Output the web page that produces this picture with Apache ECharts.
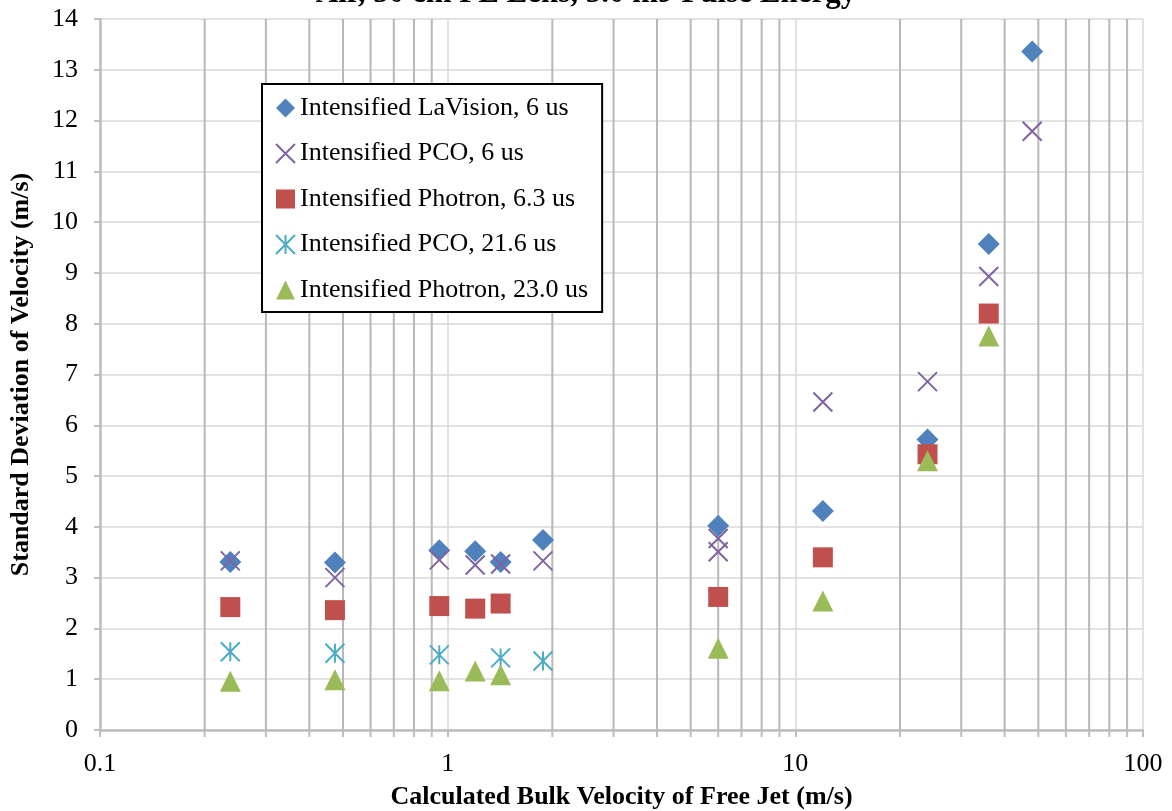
<!DOCTYPE html>
<html>
<head>
<meta charset="utf-8">
<script src="https://cdn.jsdelivr.net/npm/echarts@6/dist/echarts.min.js"></script>
<style>html,body{margin:0;padding:0;background:#fff;}#c{width:1172px;height:811px;}</style>
</head>
<body>
<div id="c"></div>
<script>
const chartTitle = 'Air, 50 cm FL Lens, 5.0 mJ Pulse Energy';
const xTitle = 'Calculated Bulk Velocity of Free Jet (m/s)';
const yTitle = 'Standard Deviation of Velocity (m/s)';

const seriesNames = ['Intensified LaVision, 6 us','Intensified PCO, 6 us','Intensified Photron, 6.3 us','Intensified PCO, 21.6 us','Intensified Photron, 23.0 us'];

const lavisionX = [0.237, 0.474, 0.946, 1.2, 1.42, 1.88, 6.0, 12, 24, 36, 48];
const lavisionY = [3.31, 3.30, 3.54, 3.52, 3.31, 3.74, 4.02, 4.31, 5.72, 9.57, 13.36];

const pco6X = [0.237, 0.474, 0.946, 1.2, 1.42, 1.88, 6.0, 6.0, 12, 24, 36, 48];
const pco6Y = [3.33, 3.00, 3.35, 3.25, 3.27, 3.33, 3.77, 3.51, 6.46, 6.86, 8.93, 11.79];

const photron63X = [0.237, 0.474, 0.946, 1.2, 1.42, 6.0, 12, 24, 36];
const photron63Y = [2.42, 2.36, 2.44, 2.39, 2.49, 2.62, 3.40, 5.43, 8.20];

const pco216X = [0.237, 0.474, 0.946, 1.42, 1.88];
const pco216Y = [1.54, 1.51, 1.48, 1.42, 1.36];

const photron23X = [0.237, 0.474, 0.946, 1.2, 1.42, 6.0, 12, 24, 36];
const photron23Y = [0.96, 0.99, 0.97, 1.16, 1.09, 1.61, 2.54, 5.30, 7.76];

const minorGridX = [0.2,0.3,0.4,0.5,0.6,0.7,0.8,0.9,2,3,4,5,6,7,8,9,20,30,40,50,60,70,80,90];

const FONT = "'Liberation Serif','Times New Roman',serif";
const zip = (xs, ys) => xs.map((x, i) => [x, ys[i]]);

const X_PATH = 'path://M0,0 L10,10 M10,0 L0,10';
const STAR_PATH = 'path://M5,0 L5,10 M0,0 L10,10 M10,0 L0,10';

const chart = echarts.init(document.getElementById('c'), null, {renderer: 'canvas'});
chart.setOption({
  animation: false,
  backgroundColor: '#fff',
  graphic: [{
    type: 'text', left: 'center', top: -22,
    style: {text: chartTitle, font: "bold 31px " + FONT, fill: '#000'}
  }],
  grid: {left: 100, right: 29, top: 19, bottom: 81, containLabel: false, outerBoundsMode: 'none'},
  legend: {
    data: seriesNames,
    orient: 'vertical',
    left: 262, top: 84,
    padding: [11, 14, 9, 13],
    itemGap: 19.5,
    itemWidth: 19, itemHeight: 19,
    backgroundColor: '#fff',
    borderColor: '#000', borderWidth: 2,
    textStyle: {fontFamily: FONT, fontSize: 26, color: '#000'}
  },
  xAxis: {
    type: 'log', logBase: 10, min: 0.1, max: 100,
    name: xTitle, nameLocation: 'middle', nameGap: 54,
    nameTextStyle: {fontFamily: FONT, fontSize: 26, fontWeight: 'bold', color: '#000'},
    axisLine: {show: true, onZero: false, lineStyle: {color: '#bfbfbf', width: 2.5}},
    axisTick: {show: true, length: 7, lineStyle: {color: '#bfbfbf', width: 2}},
    axisLabel: {fontFamily: FONT, fontSize: 26, color: '#000', margin: 21,
      formatter: v => String(+v.toPrecision(6))},
    splitLine: {show: true, lineStyle: {color: '#d9d9d9', width: 1.5}},
    minorTick: {show: false}, minorSplitLine: {show: false}
  },
  yAxis: {
    type: 'value', min: 0, max: 14, interval: 1,
    name: yTitle, nameLocation: 'middle', nameGap: 66,
    nameTextStyle: {fontFamily: FONT, fontSize: 26, fontWeight: 'bold', color: '#000'},
    axisLine: {show: true, lineStyle: {color: '#bfbfbf', width: 2.5}},
    axisTick: {show: true, length: 6, lineStyle: {color: '#bfbfbf', width: 2}},
    axisLabel: {fontFamily: FONT, fontSize: 26, color: '#000', margin: 22},
    splitLine: {show: true, lineStyle: {color: '#d9d9d9', width: 1.5}}
  },
  series: [
    {
      type: 'custom', name: 'minorGrid', silent: true, clip: false, z: 1,
      data: minorGridX.map(v => [v, 0]),
      renderItem: function (params, api) {
        const v = api.value(0);
        const p0 = api.coord([v, 0]);
        const p1 = api.coord([v, 14]);
        return {
          type: 'group', children: [
            {type: 'line', shape: {x1: p0[0], y1: p0[1], x2: p1[0], y2: p1[1]}, style: {stroke: '#b8b8b8', lineWidth: 2}},
            {type: 'line', shape: {x1: p0[0], y1: p0[1], x2: p0[0], y2: p0[1] + 7}, style: {stroke: '#bfbfbf', lineWidth: 2}}
          ]
        };
      }
    },
    {
      name: seriesNames[0], type: 'scatter', z: 3, symbol: 'diamond', symbolSize: 22,
      itemStyle: {color: '#4F81BD', opacity: 1},
      data: zip(lavisionX, lavisionY)
    },
    {
      name: seriesNames[1], type: 'scatter', z: 3, symbol: X_PATH, symbolSize: 19,
      itemStyle: {color: 'rgba(0,0,0,0)', borderColor: '#8064A2', borderWidth: 2, opacity: 1},
      data: zip(pco6X, pco6Y)
    },
    {
      name: seriesNames[2], type: 'scatter', z: 3, symbol: 'rect', symbolSize: 20,
      itemStyle: {color: '#C0504D', opacity: 1},
      data: zip(photron63X, photron63Y)
    },
    {
      name: seriesNames[3], type: 'scatter', z: 3, symbol: STAR_PATH, symbolSize: 19,
      itemStyle: {color: 'rgba(0,0,0,0)', borderColor: '#4BACC6', borderWidth: 2, opacity: 1},
      data: zip(pco216X, pco216Y)
    },
    {
      name: seriesNames[4], type: 'scatter', z: 3, symbol: 'triangle', symbolSize: 21,
      itemStyle: {color: '#9BBB59', opacity: 1},
      data: zip(photron23X, photron23Y)
    }
  ]
});
</script>
</body>
</html>
